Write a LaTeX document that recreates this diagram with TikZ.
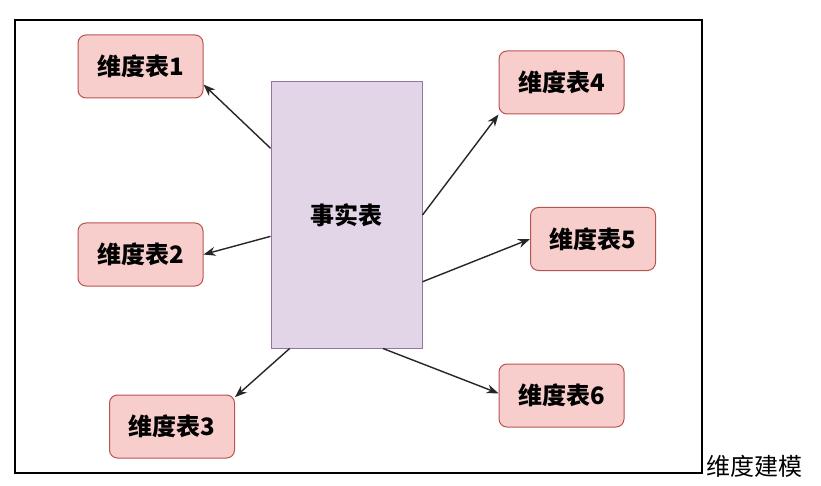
\documentclass[tikz,border=0pt]{standalone}
\usepackage{fontspec}
\newfontfamily\cjkfont{Noto Sans CJK SC}
\usetikzlibrary{positioning,calc,arrows.meta}
\definecolor{dimfill}{HTML}{F8CECC}
\definecolor{dimline}{HTML}{B85450}
\definecolor{factfill}{HTML}{E1D5E7}
\definecolor{factline}{HTML}{9673A6}
\tikzset{
  dimtab/.style={draw=dimline, fill=dimfill, rounded corners=8pt, line width=1pt,
    minimum width=125pt, minimum height=63pt, inner sep=0pt,
    font=\cjkfont\bfseries\fontsize{24}{24}\selectfont},
  facttab/.style={draw=factline, fill=factfill, line width=1pt,
    minimum width=151pt, minimum height=266pt, inner sep=0pt,
    font=\cjkfont\bfseries\fontsize{24}{24}\selectfont},
  link/.style={-{Stealth[length=12pt,width=9pt]}, line width=1.4pt, draw=black!85}
}
\begin{document}
\begin{tikzpicture}[x=1pt,y=-1pt]
		\useasboundingbox (0,0) rectangle (821,486);
		\fill[white] (0,0) rectangle (821,486);
		\draw[line width=1.5pt] (15,20) rectangle (702,473);
		\node[anchor=west, font=\cjkfont\fontsize{24}{24}\selectfont] (cap) at (703,466) {维度建模};
		% fact table in the middle
		\node[facttab] (fact) at (346.5,215) {事实表};
		% dimension tables
		\node[dimtab] (d1) at (140.5,66.5) {维度表1};
		\node[dimtab] (d2) at (140.5,254.5) {维度表2};
		\node[dimtab] (d3) at (172,426.5) {维度表3};
		\node[dimtab] (d4) at (561.5,82.5) {维度表4};
		\node[dimtab] (d5) at (593,239) {维度表5};
		\node[dimtab] (d6) at (561.5,395.5) {维度表6};
		\coordinate (f1) at ($(fact.north west)!0.25!(fact.south west)$);
		\coordinate (f2) at ($(fact.north west)!0.58!(fact.south west)$);
		\coordinate (f3) at ($(fact.south west)!0.126!(fact.south east)$);
		\coordinate (f4) at ($(fact.north east)!0.5!(fact.south east)$);
		\coordinate (f5) at ($(fact.north east)!0.75!(fact.south east)$);
		\coordinate (f6) at ($(fact.south west)!0.74!(fact.south east)$);
		\draw[link] (f1) -- (d1.-16);
		\draw[link] (f2) -- (d2.east);
		\draw[link] (f3) -- (d3.25);
		\draw[link] (f4) -- (d4.south west);
		\draw[link] (f5) -- (d5.west);
		\draw[link] (f6) -- (d6.178);
	\end{tikzpicture}
\end{document}
